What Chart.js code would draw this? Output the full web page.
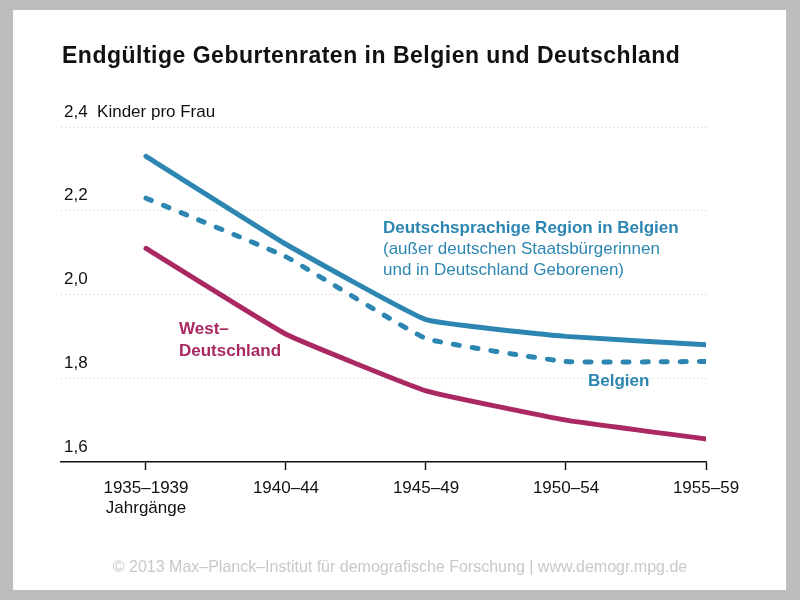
<!DOCTYPE html>
<html>
<head>
<meta charset="utf-8">
<script src="https://cdn.jsdelivr.net/npm/chart.js@4.4.1/dist/chart.umd.min.js"></script>
<style>
  html, body { margin: 0; padding: 0; background: #bdbdbd; }
  #wrap { width: 800px; height: 600px; position: relative; }
</style>
</head>
<body>
<div id="wrap"><canvas id="c" width="800" height="600"></canvas></div>
<script>
// ---- data ----
const categories = ['1935–1939', '1940–44', '1945–49', '1950–54', '1955–59'];
const firstCategorySubLabel = 'Jahrgänge';
const regionValues  = [2.33, 2.12, 1.94, 1.90, 1.88];   // Deutschsprachige Region in Belgien
const belgienValues = [2.23, 2.09, 1.895, 1.84, 1.84];  // Belgien
const westValues    = [2.11, 1.905, 1.77, 1.70, 1.655]; // West-Deutschland
const yTicks = [1.6, 1.8, 2.0, 2.2, 2.4];
const yUnit = 'Kinder pro Frau';

const titleText = 'Endgültige Geburtenraten in Belgien und Deutschland';
const footerText = '© 2013 Max–Planck–Institut für demografische Forschung | www.demogr.mpg.de';

const BLUE = '#2c86b1';
const MAGENTA = '#aa2962';
const FONT = '"Liberation Sans", Arial, Helvetica, sans-serif';

const toPoints = arr => arr.map((v, i) => ({ x: i, y: v }));
const fmt = v => v.toFixed(1).replace('.', ',');

const decorPlugin = {
  id: 'decor',
  beforeDraw(chart) {
    const ctx = chart.ctx;
    ctx.save();
    ctx.fillStyle = '#bdbdbd';
    ctx.fillRect(0, 0, 800, 600);
    ctx.fillStyle = '#ffffff';
    ctx.fillRect(13, 10, 773, 580);
    ctx.restore();
  },
  afterDraw(chart) {
    const ctx = chart.ctx;
    ctx.save();
    ctx.textBaseline = 'alphabetic';
    ctx.textAlign = 'left';
    // title
    ctx.fillStyle = '#111111';
    ctx.font = 'bold 23px ' + FONT;
    ctx.letterSpacing = '0.5px';
    ctx.fillText(titleText, 62, 63);
    ctx.letterSpacing = '0px';
    // annotations
    ctx.fillStyle = BLUE;
    ctx.font = 'bold 17px ' + FONT;
    ctx.fillText('Deutschsprachige Region in Belgien', 383, 233);
    ctx.font = '17px ' + FONT;
    ctx.fillText('(außer deutschen Staatsbürgerinnen', 383, 254);
    ctx.fillText('und in Deutschland Geborenen)', 383, 275);
    ctx.font = 'bold 17px ' + FONT;
    ctx.fillText('Belgien', 588, 386);
    ctx.fillStyle = MAGENTA;
    ctx.fillText('West–', 179, 334);
    ctx.fillText('Deutschland', 179, 356);
    // footer
    ctx.fillStyle = '#c8c8c8';
    ctx.font = '16px ' + FONT;
    ctx.textAlign = 'center';
    ctx.fillText(footerText, 400, 572);
    ctx.restore();
  }
};

new Chart(document.getElementById('c'), {
  type: 'line',
  data: {
    datasets: [
      {
        label: 'Deutschsprachige Region in Belgien',
        data: toPoints(regionValues),
        borderColor: BLUE,
        borderWidth: 5,
        borderCapStyle: 'round',
        borderJoinStyle: 'round',
        pointRadius: 0,
        tension: 0.1
      },
      {
        label: 'Belgien',
        data: toPoints(belgienValues),
        borderColor: BLUE,
        borderWidth: 5,
        borderDash: [6, 13],
        borderCapStyle: 'round',
        borderJoinStyle: 'round',
        pointRadius: 0,
        tension: 0.1
      },
      {
        label: 'West-Deutschland',
        data: toPoints(westValues),
        borderColor: MAGENTA,
        borderWidth: 5,
        borderCapStyle: 'round',
        borderJoinStyle: 'round',
        pointRadius: 0,
        tension: 0.1
      }
    ]
  },
  options: {
    responsive: false,
    animation: false,
    layout: { padding: { left: 61, right: 94, top: 127, bottom: 0 } },
    plugins: {
      legend: { display: false },
      tooltip: { enabled: false }
    },
    scales: {
      x: {
        type: 'linear',
        min: -0.607,
        max: categories.length - 1,
        afterBuildTicks: s => { s.ticks = categories.map((c, i) => ({ value: i })); },
        afterFit: s => { s.height = 138; },
        grid: {
          drawOnChartArea: false,
          drawTicks: true,
          tickLength: 8,
          tickColor: '#111111',
          tickWidth: 1.5
        },
        border: { display: true, color: '#111111', width: 1.5 },
        ticks: {
          padding: 8,
          color: '#111111',
          font: { family: FONT, size: 17 },
          maxRotation: 0,
          autoSkip: false,
          callback: v => (v === 0 ? [categories[0], firstCategorySubLabel] : categories[v])
        }
      },
      y: {
        min: yTicks[0],
        max: yTicks[yTicks.length - 1],
        afterBuildTicks: s => { s.ticks = yTicks.map(v => ({ value: v })); },
        afterFit: s => { s.width = 0; },
        grid: {
          drawTicks: false,
          color: ctx => (ctx.tick && ctx.tick.value === yTicks[0] ? 'rgba(0,0,0,0)' : '#c9c9c9'),
          lineWidth: 1
        },
        border: { display: false, dash: [1, 3] },
        ticks: {
          mirror: true,
          padding: 3,
          labelOffset: -15,
          color: '#111111',
          font: { family: FONT, size: 17 },
          callback: v => (v === yTicks[yTicks.length - 1] ? fmt(v) + '  ' + yUnit : fmt(v))
        }
      }
    }
  },
  plugins: [decorPlugin]
});
</script>
</body>
</html>
